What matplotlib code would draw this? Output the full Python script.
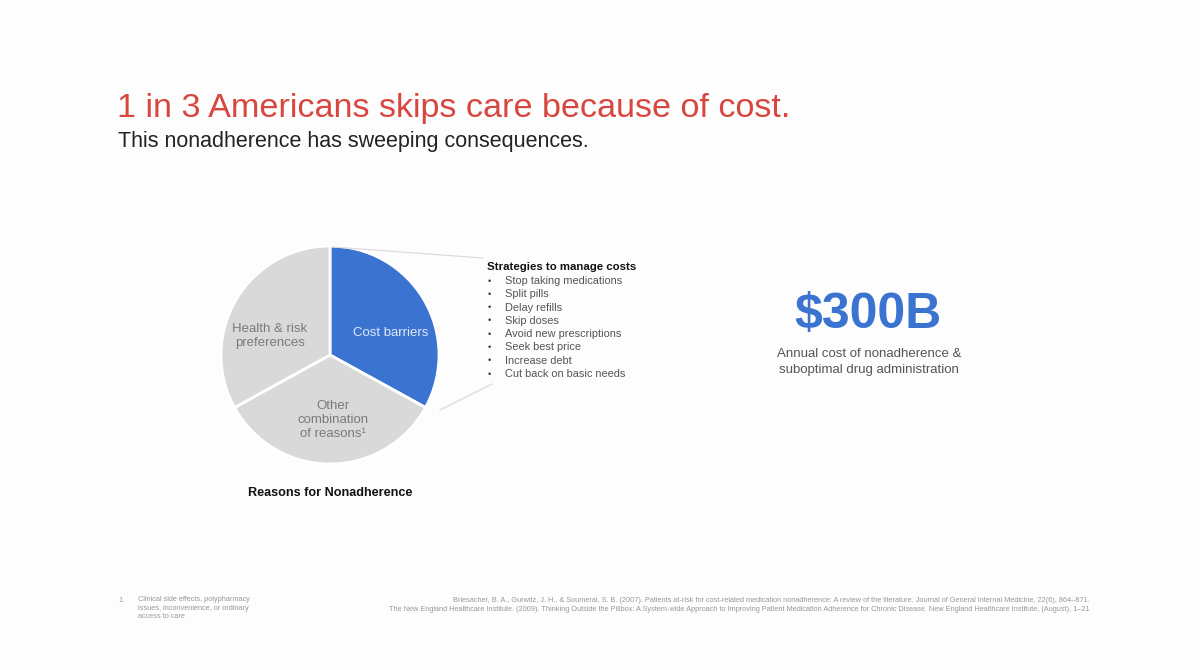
import matplotlib
matplotlib.use('Agg')
import matplotlib.pyplot as plt

plt.rcParams['font.family'] = ['Liberation Sans', 'DejaVu Sans']

#-------------------------------------------- Data --------------------------------------------#

reasons = ['Cost barriers', 'Other\ncombination\nof reasons\u00b9', 'Health & risk\npreferences']
shares = [33, 34, 33]
slice_colors = ['#3b74d0', '#d9d9d9', '#d9d9d9']
label_colors = ['#dfe8f7', '#7a7a7a', '#7a7a7a']

strategies = ['Stop taking medications', 'Split pills', 'Delay refills', 'Skip doses',
              'Avoid new prescriptions', 'Seek best price', 'Increase debt',
              'Cut back on basic needs']

big_number = '$300B'
big_caption = 'Annual cost of nonadherence &\nsuboptimal drug administration'

title = '1 in 3 Americans skips care because of cost.'
subtitle = 'This nonadherence has sweeping consequences.'

footnote = 'Clinical side effects, polypharmacy\nissues, inconvenience, or ordinary\naccess to care'
refs = ['Briesacher, B. A., Gurwitz, J. H., & Soumerai, S. B. (2007). Patients at-risk for cost-related medication nonadherence: A review of the literature. Journal of General Internal Medicine, 22(6), 864\u2013871.',
        'The New England Healthcare Institute. (2009). Thinking Outside the Pillbox: A System-wide Approach to Improving Patient Medication Adherence for Chronic Disease. New England Healthcare Institute, (August), 1\u201321']

#-------------------------------------------- Plotting --------------------------------------------#

W, H = 1200, 670
fig = plt.figure(figsize=(12, 6.7), dpi=100, facecolor='#fdfdfd')
ax = fig.add_axes([0, 0, 1, 1])

def Y(y):
    # image row -> axis coordinate
    return H - y

# pie
cx, cy, r = 330, Y(355), 109
wedges, _ = ax.pie(shares, colors=slice_colors, startangle=90, counterclock=False,
                   center=(cx, cy), radius=r, frame=True,
                   wedgeprops=dict(edgecolor='white', linewidth=2))
ax.set_xlim(0, W)
ax.set_ylim(0, H)
ax.set_aspect('equal')
ax.axis('off')

label_pos = [(391, 333), (333, 420), (270, 336)]
for lab, (lx, ly), c in zip(reasons, label_pos, label_colors):
    ax.text(lx, Y(ly), lab, ha='center', va='center', fontsize=9.5, color=c,
            linespacing=1.25)

ax.text(330, Y(493), 'Reasons for Nonadherence', ha='center', va='center',
        fontsize=9.1, fontweight='bold', color='#111111')

# zoom lines from the cost slice to the strategies list
ax.plot([333, 483], [Y(247), Y(258)], color='#dcdcdc', lw=0.9)
ax.plot([440, 492], [Y(410), Y(384)], color='#dcdcdc', lw=0.9)

ax.text(487, Y(267), 'Strategies to manage costs', ha='left', va='center',
        fontsize=8.2, fontweight='bold', color='#111111')
for i, s in enumerate(strategies):
    yy = Y(281 + i * 13.3)
    ax.text(488, yy, '\u2022', ha='left', va='center', fontsize=6.5, color='#333333')
    ax.text(505, yy, s, ha='left', va='center', fontsize=7.9, color='#555555')

# big number
ax.text(868, Y(315), big_number, ha='center', va='center', fontsize=36,
        fontweight='bold', color='#3b74d0')
ax.text(869, Y(362), big_caption, ha='center', va='center', fontsize=9.5,
        color='#555555', linespacing=1.35)

# titles
ax.text(117, Y(108), title, ha='left', va='center', fontsize=24.6, color='#d7463f')
ax.text(118, Y(142), subtitle, ha='left', va='center', fontsize=15.5, color='#222222')

# footnotes
ax.text(118, Y(600), '1.', ha='left', va='center', fontsize=5.3, color='#999999')
ax.text(138, Y(596), footnote, ha='left', va='top', fontsize=5.3, color='#999999',
        linespacing=1.3)
for i, ref in enumerate(refs):
    ax.text(1090, Y(600 + i * 9.5), ref, ha='right', va='center', fontsize=5.3,
            color='#999999')

fig.savefig('out.png', dpi=100, facecolor=fig.get_facecolor())
